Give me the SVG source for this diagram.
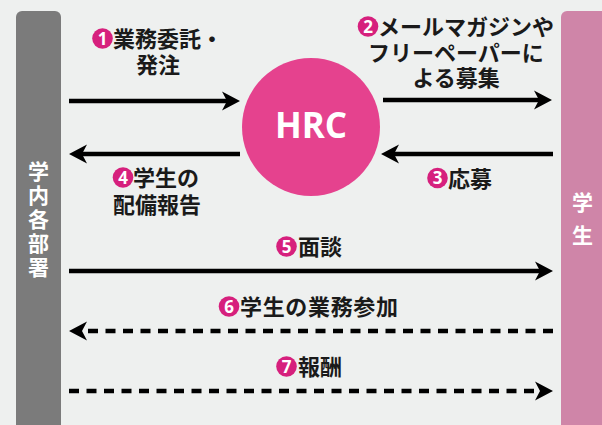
<svg xmlns="http://www.w3.org/2000/svg" width="602" height="425" viewBox="0 0 602 425">
<style>
.lbl{font-family:"Noto Sans CJK JP","Noto Sans",sans-serif;font-weight:700;font-size:22px;fill:#1a1a1a}
.vt{font-family:"Noto Sans CJK JP","Noto Sans",sans-serif;font-weight:700;font-size:21px;fill:#ffffff;writing-mode:vertical-rl}
.badge{fill:#d6207d}
.num{font-family:"Noto Sans","Open Sans",sans-serif;font-weight:700;font-size:17px;fill:#ffffff;text-anchor:middle}
.ln{stroke:#000;stroke-width:4.3;fill:none;marker-end:url(#ah)}
.dash{stroke-dasharray:10 7.5}
</style>
<defs>
<marker id="ah" markerUnits="userSpaceOnUse" viewBox="-18 -10 18 20" markerWidth="18" markerHeight="20" refX="-10" refY="0" orient="auto">
<path d="M0,0 L-18,-9.5 L-13,0 L-18,9.5 Z" fill="#000"/>
</marker>
</defs>
<rect width="602" height="425" fill="#eef0ef"/>

<g id="dept">
<rect x="16" y="11" width="45" height="420" rx="6" fill="#7b7b7b"/>
<text class="vt" x="38.5" y="161" letter-spacing="3">学内各部署</text>
</g>

<g id="student">
<rect x="561" y="11" width="50" height="420" rx="6" fill="#cf85a8"/>
<text class="vt" x="582.5" y="191.5" letter-spacing="12">学生</text>
</g>

<g id="hrc">
<circle cx="311" cy="127" r="69" fill="#e5428e"/>
<text x="311" y="138" text-anchor="middle" font-family="'Open Sans','Noto Sans',sans-serif" font-weight="700" font-size="35" fill="#ffffff">HRC</text>
</g>

<g id="connectors">
<line class="ln" x1="69" y1="101" x2="230" y2="101"/>
<line class="ln" x1="383" y1="100" x2="542" y2="100"/>
<line class="ln" x1="240" y1="154" x2="79" y2="154"/>
<line class="ln" x1="553" y1="154" x2="391" y2="154"/>
<line class="ln" x1="69" y1="271" x2="543" y2="271"/>
<line class="ln dash" x1="553" y1="331" x2="79" y2="331"/>
<line class="ln dash" x1="69" y1="391" x2="543" y2="391"/>
</g>

<g id="label1">
<circle class="badge" cx="102.5" cy="38.5" r="10.3"/>
<text class="num" x="102.5" y="44.5">1</text>
<text class="lbl"><tspan x="113" y="47">業務委託・</tspan><tspan x="136" y="73">発注</tspan></text>
</g>

<g id="label2">
<circle class="badge" cx="368" cy="26.5" r="10.3"/>
<text class="num" x="368" y="32.5">2</text>
<text class="lbl"><tspan x="378" y="35">メールマガジンや</tspan><tspan x="368" y="60.5">フリーペーパーに</tspan><tspan x="412.5" y="86">よる募集</tspan></text>
</g>

<g id="label3">
<circle class="badge" cx="437.5" cy="178" r="10.3"/>
<text class="num" x="437.5" y="184">3</text>
<text class="lbl" x="448" y="187">応募</text>
</g>

<g id="label4">
<circle class="badge" cx="123" cy="177.5" r="10.3"/>
<text class="num" x="123" y="183.5">4</text>
<text class="lbl"><tspan x="133" y="186">学生の</tspan><tspan x="113" y="213">配備報告</tspan></text>
</g>

<g id="label5">
<circle class="badge" cx="286.5" cy="246.5" r="10.3"/>
<text class="num" x="286.5" y="252.5">5</text>
<text class="lbl" x="298" y="255">面談</text>
</g>

<g id="label6">
<circle class="badge" cx="229" cy="306.5" r="10.3"/>
<text class="num" x="229" y="312.5">6</text>
<text class="lbl" x="240" y="315" textLength="158" lengthAdjust="spacing">学生の業務参加</text>
</g>

<g id="label7">
<circle class="badge" cx="286.5" cy="366.5" r="10.3"/>
<text class="num" x="286.5" y="372.5">7</text>
<text class="lbl" x="298" y="375">報酬</text>
</g>
</svg>
